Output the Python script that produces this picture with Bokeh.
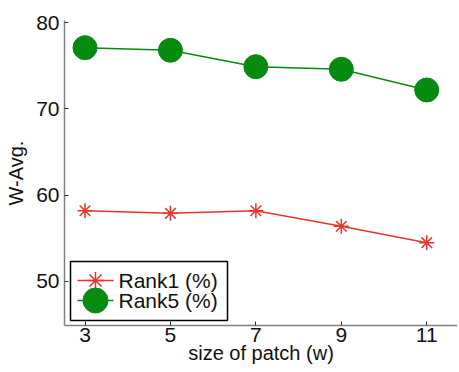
from bokeh.plotting import figure
from bokeh.models import Range1d, FixedTicker
from bokeh.core.properties import value
from bokeh.embed import file_html
from bokeh.resources import INLINE

patch_sizes = [3, 5, 7, 9, 11]
rank1 = [58.2, 57.9, 58.2, 56.4, 54.5]
rank5 = [77.1, 76.8, 74.9, 74.6, 72.2]
x_ticks = [3, 5, 7, 9, 11]
y_ticks = [50, 60, 70, 80]
series_names = ["Rank1 (%)", "Rank5 (%)"]

RED = "#e8342c"
GREEN = "#078a10"
FONT = "Liberation Sans"
FS = "20px"

W, H = 457, 370
LEFT, TOP, BOTTOM = 64, 20, 45
FW, FH = W - LEFT, H - TOP - BOTTOM

p = figure(width=W, height=H, output_backend="svg", toolbar_location=None,
           x_range=Range1d(2.52, 11.72), y_range=Range1d(44.9, 80.25),
           min_border_left=LEFT, min_border_right=0, min_border_top=TOP,
           min_border_bottom=BOTTOM)
p.outline_line_color = None
p.grid.visible = False

for ax in (p.xaxis[0], p.yaxis[0]):
    ax.axis_line_color = "#808080"
    ax.axis_line_width = 1.5
    ax.major_tick_line_color = "#303030"
    ax.major_tick_in = 4
    ax.major_tick_out = 0
    ax.minor_tick_line_color = None
    ax.major_label_text_font = FONT
    ax.major_label_text_font_size = "21px"
    ax.major_label_text_color = "#111111"
    ax.axis_label_text_font = FONT
    ax.axis_label_text_font_size = FS
    ax.axis_label_text_font_style = "normal"
    ax.axis_label_text_color = "#111111"

p.xaxis.ticker = FixedTicker(ticks=x_ticks)
p.yaxis.ticker = FixedTicker(ticks=y_ticks)
p.xaxis.axis_label = "size of patch (w)"
p.yaxis.axis_label = "W-Avg."
p.xaxis.major_label_standoff = 2
p.xaxis.axis_label_standoff = -3
p.yaxis.major_label_standoff = 5
p.yaxis.axis_label_standoff = 6

p.line(patch_sizes, rank1, line_color=RED, line_width=1.5)
p.scatter(patch_sizes, rank1, marker="asterisk", size=15, line_color=RED, line_width=1.5)
p.line(patch_sizes, rank5, line_color=GREEN, line_width=1.5)
p.scatter(patch_sizes, rank5, marker="circle", size=24, fill_color=GREEN, line_color=GREEN)

# legend drawn in frame-pixel coordinates (layout, not data)
p.extra_x_ranges["lg"] = Range1d(0, FW)
p.extra_y_ranges["lg"] = Range1d(0, FH)
p.quad(left=[6], right=[163], bottom=[5], top=[64], x_range_name="lg", y_range_name="lg",
       fill_color="white", line_color="black", line_width=1.5)
rows_y = [45, 25]
colors = [RED, GREEN]
p.segment(x0=[13, 13], x1=[49, 49], y0=rows_y, y1=rows_y, line_color=colors, line_width=1.5,
          x_range_name="lg", y_range_name="lg")
p.scatter([31], [rows_y[0]], marker="asterisk", size=17, line_color=RED, line_width=1.5,
          x_range_name="lg", y_range_name="lg")
p.scatter([31], [rows_y[1]], marker="circle", size=25, fill_color=GREEN, line_color=GREEN,
          x_range_name="lg", y_range_name="lg")
p.text(x=[54, 54], y=rows_y, text=series_names, text_font=value(FONT), text_font_size="21px",
       text_color="#111111", text_baseline="middle", x_range_name="lg", y_range_name="lg")

open("out.html", "w").write(file_html(p, INLINE))
